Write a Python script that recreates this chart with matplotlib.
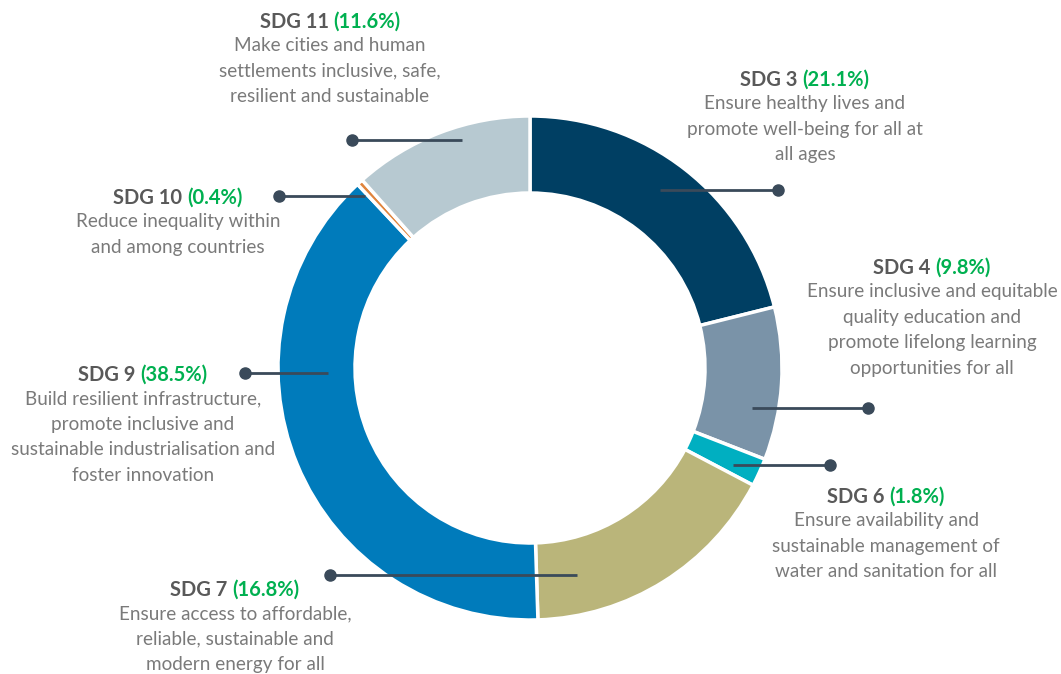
import matplotlib.pyplot as plt

# data
sdg_labels = ["SDG 3", "SDG 4", "SDG 6", "SDG 7", "SDG 9", "SDG 10", "SDG 11"]
shares = [21.1, 9.8, 1.8, 16.8, 38.5, 0.4, 11.6]
descriptions = [
    "Ensure healthy lives and\npromote well-being for all at\nall ages",
    "Ensure inclusive and equitable\nquality education and\npromote lifelong learning\nopportunities for all",
    "Ensure availability and\nsustainable management of\nwater and sanitation for all",
    "Ensure access to affordable,\nreliable, sustainable and\nmodern energy for all",
    "Build resilient infrastructure,\npromote inclusive and\nsustainable industrialisation and\nfoster innovation",
    "Reduce inequality within\nand among countries",
    "Make cities and human\nsettlements inclusive, safe,\nresilient and sustainable",
]
colors = ["#003f63", "#7a93a8", "#00afc1", "#bab57a", "#007bbb", "#e0843c", "#b7c9d1"]

# layout (pixel coords, y from top)
label_pos = [(805, 80), (932, 268), (886, 497), (235, 590), (143, 375), (178, 198), (330, 22)]
leaders = [(660, 778, 190), (752, 868, 408), (733, 830, 465), (577, 330, 575),
           (328, 245, 373), (365, 279, 196), (462, 352, 140)]

plt.rcParams['font.family'] = ['Lato', 'DejaVu Sans']
W, H = 1061, 674
fig = plt.figure(figsize=(W / 100, H / 100), dpi=100)
ax = fig.add_axes([0, 0, 1, 1])

cx, cy, r = 530, H - 368, 252
ax.pie(shares, colors=colors, startangle=90, counterclock=False,
       center=(cx, cy), radius=r, frame=True,
       wedgeprops=dict(width=77, edgecolor="white", linewidth=2.5))
ax.set_xlim(0, W)
ax.set_ylim(0, H)
ax.axis("off")

# leader lines
for x0, x1, y in leaders:
    ax.plot([x0, x1], [H - y, H - y], color="#3a4a5a", lw=2, solid_capstyle="butt")
    ax.plot(x1, H - y, "o", color="#3a4a5a", ms=8)

# labels: grey "SDG n" + green share, centred together above the description
fig.canvas.draw()
rend = fig.canvas.get_renderer()
for lab, val, desc, (x, y) in zip(sdg_labels, shares, descriptions, label_pos):
    t1 = ax.text(x, H - y, lab + " ", fontsize=14.5, fontweight="bold", color="#595959",
                 ha="left", va="center")
    t2 = ax.text(x, H - y, f"({val}%)", fontsize=14.5, fontweight="bold", color="#00b050",
                 ha="left", va="center")
    w1 = t1.get_window_extent(rend).width
    w2 = t2.get_window_extent(rend).width
    start = x - (w1 + w2) / 2
    t1.set_x(start)
    t2.set_x(start + w1)
    ax.text(x, H - y - 15, desc, fontsize=13.6, color="#7a7a7a", ha="center", va="top",
            linespacing=1.62)

fig.savefig("out.png", dpi=100)
